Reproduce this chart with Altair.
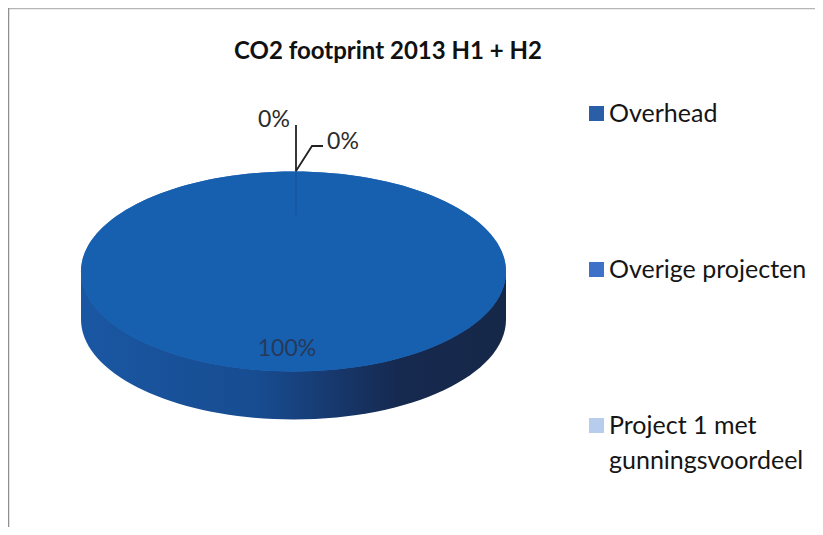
import altair as alt
import pandas as pd

title = "CO2 footprint 2013 H1 + H2"
categories = ["Overhead", "Project 1 met gunningsvoordeel", "Overige projecten"]
legend_order = ["Overhead", "Overige projecten", "Project 1 met gunningsvoordeel"]
shares = [0, 0, 100]
colors = ["#2A5EA6", "#B8CDEE", "#3D72C8"]
top_fill = "#1660AF"

# pie geometry, in pixels of the picture
CX, CY, RX, RY, DEPTH = 293.5, 271.5, 212.5, 100.0, 48.0
r = RY / RX
d = DEPTH / RX
TOP = f"M-1 0 A1 {r:.4f} 0 1 1 1 0 A1 {r:.4f} 0 1 1 -1 0 Z"
BODY = f"M-1 0 L-1 {d:.4f} A1 {r:.4f} 0 0 0 1 {d:.4f} L1 0 Z"
SIZE = (2 * RX) ** 2

W, H = 807, 519
X = alt.Scale(domain=[8, 8 + W], range=[0, W])
Y = alt.Scale(domain=[8, 8 + H], range=[0, H])
x = lambda f: alt.X(f, type="quantitative", scale=X, axis=None)
y = lambda f: alt.Y(f, type="quantitative", scale=Y, axis=None)
x2 = lambda f: alt.X2(f)
y2 = lambda f: alt.Y2(f)

pie = pd.DataFrame({"category": categories, "share": shares, "cx": CX, "cy": CY})

frame_h = pd.DataFrame({"x": [8], "x2": [815], "y": [8.5]})
frame_v = pd.DataFrame({"x": [8], "y": [8], "y2": [527]})

body = alt.Chart(pie[pie.share > 0]).mark_point(
    filled=True, opacity=1, shape=BODY, size=SIZE,
    fill=alt.LinearGradient(
        gradient="linear", x1=0, x2=1, y1=0, y2=0,
        stops=[
            alt.GradientStop(offset=0, color="#1A57A3"),
            alt.GradientStop(offset=0.42, color="#174C90"),
            alt.GradientStop(offset=0.58, color="#173A70"),
            alt.GradientStop(offset=0.75, color="#16294F"),
            alt.GradientStop(offset=1, color="#162848"),
        ],
    ),
).encode(x=x("cx"), y=y("cy"))

top = alt.Chart(pie).mark_point(filled=True, opacity=1, shape=TOP).encode(
    x=x("cx"), y=y("cy"),
    size=alt.Size("share:Q", scale=alt.Scale(domain=[0, 100], range=[0, SIZE]), legend=None),
    color=alt.Color(
        "category:N",
        scale=alt.Scale(domain=legend_order, range=[colors[0], colors[2], colors[1]]),
        legend=alt.Legend(
            title=None, orient="none", legendX=576, legendY=93, padding=0,
            symbolType="square", symbolSize=225, symbolOpacity=1, symbolStrokeWidth=0,
            labelFont="Lato", labelFontSize=25, labelColor="#151515", labelLimit=300,
            labelOffset=0, rowPadding=130,
            labelExpr="datum.label == 'Project 1 met gunningsvoordeel' ? ['Project 1 met', 'gunningsvoordeel'] : datum.label",
        ),
    ),
)

# the top face has its own colour, laid over the legend-keyed slices
top_face = alt.Chart(pie[pie.share > 0]).mark_point(
    filled=True, opacity=1, shape=TOP, size=SIZE, fill=top_fill
).encode(x=x("cx"), y=y("cy"))

seam = alt.Chart(pd.DataFrame({"x": [296], "y": [171], "y2": [215]})).mark_rule(
    color="#14549F", strokeWidth=1.5
).encode(x=x("x"), y=y("y"), y2=y2("y2"))

leader1 = alt.Chart(pd.DataFrame({"x": [296], "y": [125], "y2": [171]})).mark_rule(
    color="#222222", strokeWidth=1.8
).encode(x=x("x"), y=y("y"), y2=y2("y2"))

leader2 = alt.Chart(pd.DataFrame({"x": [296, 312, 323], "y": [171, 146, 146], "o": [0, 1, 2]})).mark_line(
    color="#222222", strokeWidth=1.8
).encode(x=x("x"), y=y("y"), order="o:Q")

labels = pd.DataFrame({
    "text": ["0%", "0%", "100%"],
    "x": [274, 343, 287],
    "y": [120, 142, 349],
    "c": ["#2B2B2B", "#2B2B2B", "#27395A"],
})
label_marks = alt.Chart(labels).mark_text(font="Lato", fontSize=23, align="center", baseline="middle").encode(
    x=x("x"), y=y("y"), text="text:N", color=alt.Color("c:N", scale=None)
)

fh = alt.Chart(frame_h).mark_rule(color="#B5B5B5", strokeWidth=1.5).encode(x=x("x"), x2=x2("x2"), y=y("y"))
fv = alt.Chart(frame_v).mark_rule(color="#8F8F8F", strokeWidth=2.5).encode(x=x("x"), y=y("y"), y2=y2("y2"))

chart = (
    alt.layer(fh, fv, body, top, top_face, seam, leader1, leader2, label_marks)
    .properties(
        width=W, height=H, padding=0, background="white",
        autosize=alt.AutoSizeParams(type="none"),
        title=alt.TitleParams(
            title, anchor="start", frame="group", dx=226, offset=-57,
            font="Lato", fontSize=24, fontWeight="bold", color="#111111",
        ),
    )
    .configure_view(stroke=None)
    .configure(style={"guide-label": {"lineHeight": 35}})
)

chart.save("out.html", embed_options={"renderer": "svg", "actions": False})
